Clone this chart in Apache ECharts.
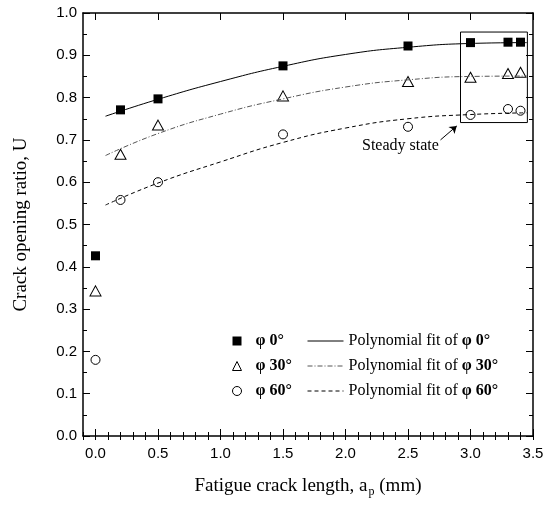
<!DOCTYPE html>
<html>
<head>
<meta charset="utf-8">
<title>Crack opening ratio vs fatigue crack length</title>
<script src="https://cdn.jsdelivr.net/npm/echarts@6/dist/echarts.min.js"></script>
<style>
  html, body { margin: 0; padding: 0; background: #fff; }
  #chart { width: 554px; height: 507px; }
</style>
</head>
<body>
<div id="chart"></div>
<script>
var crackLength = [0, 0.2, 0.5, 1.5, 2.5, 3.0, 3.3, 3.4];
var u0 = [0.426, 0.771, 0.797, 0.875, 0.922, 0.930, 0.931, 0.931];
var u30 = [0.343, 0.666, 0.735, 0.804, 0.838, 0.848, 0.857, 0.860];
var u60 = [0.180, 0.558, 0.600, 0.713, 0.731, 0.759, 0.773, 0.769];

// polynomial fit curves, sampled off the figure
var fitLength = [0.08, 0.5, 1.0, 1.5, 2.0, 2.5, 3.0, 3.45];
var fit0 = [0.756, 0.796, 0.838, 0.874, 0.902, 0.919, 0.928, 0.930];
var fit30 = [0.663, 0.715, 0.761, 0.797, 0.825, 0.842, 0.850, 0.851];
var fit60 = [0.546, 0.598, 0.648, 0.694, 0.728, 0.750, 0.760, 0.764];

var xTicks = [0, 0.5, 1.0, 1.5, 2.0, 2.5, 3.0, 3.5];

// "steady state" box and arrow, in data units
var steadyBox = [[2.92, 0.955], [3.455, 0.741]];
var arrowFrom = [2.76, 0.700];
var arrowTo = [2.89, 0.733];

var serif = 'Liberation Serif';
var sans = 'Liberation Sans';

function pairs(xs, ys) {
  return xs.map(function (x, i) { return [x, ys[i]]; });
}

var chart = echarts.init(document.getElementById('chart'), null, { renderer: 'canvas' });

var axisLine = { show: true, onZero: false, lineStyle: { color: '#000', width: 1.5 } };
var tickStyle = { color: '#000', width: 1 };

function xAxisBase(pos, major) {
  var ax = {
    type: 'value', min: -0.1, max: 3.5, position: pos,
    axisLine: major ? axisLine : { show: false },
    splitLine: { show: false },
    axisLabel: { show: false },
    axisTick: { show: true, inside: true, length: major ? 7 : 4, lineStyle: tickStyle }
  };
  if (major) {
    ax.axisTick.customValues = xTicks;
  } else {
    ax.interval = 0.1;
  }
  return ax;
}

var xMain = xAxisBase('bottom', true);
xMain.axisLabel = {
  show: true, customValues: xTicks, color: '#000', fontFamily: sans, fontSize: 15, margin: 10,
  formatter: function (v) { return v.toFixed(1); }
};
xMain.name = '{t|Fatigue crack length, a}{s|p}{t| (mm)}';
xMain.nameLocation = 'middle';
xMain.nameGap = 38;
xMain.nameTextStyle = {
  rich: {
    t: { fontFamily: serif, fontSize: 19, color: '#000' },
    s: { fontFamily: serif, fontSize: 12, color: '#000', padding: [12, 0, 0, 1] }
  }
};

function yAxisBase(pos) {
  return {
    type: 'value', min: 0, max: 1, interval: 0.1, position: pos,
    axisLine: axisLine,
    splitLine: { show: false },
    axisTick: { show: true, inside: true, length: 7, lineStyle: tickStyle },
    minorTick: { show: true, splitNumber: 2, length: 4, lineStyle: tickStyle },
    minorSplitLine: { show: false },
    axisLabel: { show: false }
  };
}

var yMain = yAxisBase('left');
yMain.axisLabel = {
  show: true, color: '#000', fontFamily: sans, fontSize: 15, margin: 6,
  formatter: function (v) { return v.toFixed(1); }
};
yMain.name = 'Crack opening ratio, U';
yMain.nameLocation = 'middle';
yMain.nameGap = 52;
yMain.nameTextStyle = { fontFamily: serif, fontSize: 19, color: '#000' };

var legendRich = {
  a: { fontFamily: serif, fontSize: 16, color: '#000' },
  b: { fontFamily: serif, fontSize: 16, fontWeight: 'bold', color: '#000' },
  bp: { fontFamily: serif, fontSize: 16, fontWeight: 'bold', color: '#000', padding: [0, 0, 0, 9] }
};

chart.setOption({
  animation: false,
  backgroundColor: '#fff',
  grid: { left: 83, right: 21, top: 13, bottom: 71, containLabel: false, outerBoundsMode: 'none' },
  xAxis: [xMain, xAxisBase('bottom', false), xAxisBase('top', true), xAxisBase('top', false)],
  yAxis: [yMain, yAxisBase('right')],
  legend: [
    {
      data: ['φ 0°', 'φ 30°', 'φ 60°'],
      orient: 'vertical', left: 232, top: 333, padding: 0,
      itemWidth: 9, itemHeight: 9, itemGap: 9,
      selectedMode: false,
      itemStyle: { borderWidth: 1 },
      textStyle: { rich: legendRich },
      formatter: function (name) { return '{bp|' + name + '}'; }
    },
    {
      data: ['Polynomial fit of φ 0°', 'Polynomial fit of φ 30°', 'Polynomial fit of φ 60°'],
      orient: 'vertical', left: 307, top: 333, padding: 0,
      itemWidth: 36, itemHeight: 9, itemGap: 9,
      selectedMode: false,
      itemStyle: { opacity: 0 },
      lineStyle: { width: 1 },
      textStyle: { rich: legendRich },
      formatter: function (name) {
        return '{a|Polynomial fit of }{b|' + name.replace('Polynomial fit of ', '') + '}';
      }
    }
  ],
  graphic: [
    {
      type: 'text', left: 362, top: 138,
      style: { text: 'Steady state', fontFamily: serif, fontSize: 16, fill: '#000' }
    }
  ],
  series: [
    {
      name: 'Polynomial fit of φ 0°', type: 'line', data: pairs(fitLength, fit0),
      smooth: true, symbol: 'none', lineStyle: { color: '#000', width: 1, type: 'solid' },
      itemStyle: { color: '#000' },
      markArea: {
        silent: true,
        itemStyle: { color: 'rgba(0,0,0,0)', borderColor: '#000', borderWidth: 1 },
        label: { show: false },
        data: [[{ coord: steadyBox[0] }, { coord: steadyBox[1] }]]
      },
      markLine: {
        silent: true, symbol: ['none', 'arrow'], symbolSize: 7,
        lineStyle: { color: '#000', width: 1, type: 'solid' },
        label: { show: false },
        data: [[{ coord: arrowFrom }, { coord: arrowTo }]]
      }
    },
    {
      name: 'Polynomial fit of φ 30°', type: 'line', data: pairs(fitLength, fit30),
      smooth: true, symbol: 'none', lineStyle: { color: '#555', width: 1, type: [5, 2, 1, 2] },
      itemStyle: { color: '#555' }
    },
    {
      name: 'Polynomial fit of φ 60°', type: 'line', data: pairs(fitLength, fit60),
      smooth: true, symbol: 'none', lineStyle: { color: '#000', width: 1, type: [4, 3] },
      itemStyle: { color: '#000' }
    },
    {
      name: 'φ 0°', type: 'scatter', data: pairs(crackLength, u0),
      symbol: 'rect', symbolSize: 9, itemStyle: { color: '#000', opacity: 1 }
    },
    {
      name: 'φ 30°', type: 'scatter', data: pairs(crackLength, u30),
      symbol: 'triangle', symbolSize: [11, 10],
      itemStyle: { color: 'rgba(0,0,0,0)', borderColor: '#000', borderWidth: 1, opacity: 1 }
    },
    {
      name: 'φ 60°', type: 'scatter', data: pairs(crackLength, u60),
      symbol: 'circle', symbolSize: 9,
      itemStyle: { color: 'rgba(0,0,0,0)', borderColor: '#000', borderWidth: 1, opacity: 1 }
    }
  ]
});
</script>
</body>
</html>
